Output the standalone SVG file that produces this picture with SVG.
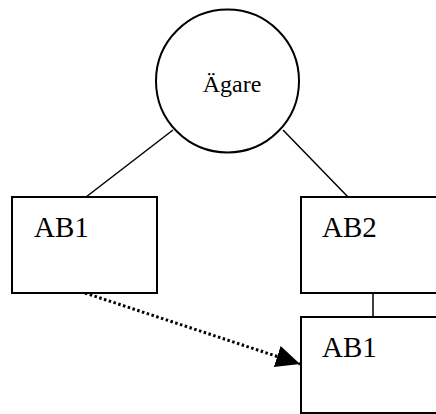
<svg xmlns="http://www.w3.org/2000/svg" width="436" height="414" viewBox="0 0 436 414">
  <style>
    .shape { fill: #fff; stroke: #000; stroke-width: 2; }
    .label { font-family: "Liberation Serif", "Times New Roman", serif; fill: #000; }
    .big { font-size: 29px; }
    .small { font-size: 24px; }
    .link { stroke: #000; stroke-width: 1.5; fill: none; }
    .dotted { stroke: #000; stroke-width: 3; fill: none; stroke-dasharray: 2.5 2.5; }
  </style>
  <defs>
    <marker id="arrow" markerUnits="userSpaceOnUse" markerWidth="26" markerHeight="24" refX="24" refY="11" orient="auto">
      <path d="M0,0 L24,11 L0,22 Z" fill="#000"/>
    </marker>
  </defs>
  <rect width="436" height="414" fill="#fff"/>

  <g id="connectors">
    <line class="link" x1="86" y1="197" x2="173" y2="130"/>
    <line class="link" x1="348" y1="197" x2="283" y2="130"/>
    <line class="link" x1="373" y1="293" x2="373" y2="317"/>
    <line class="dotted" x1="85" y1="293" x2="300" y2="364" marker-end="url(#arrow)"/>
  </g>

  <g id="owner">
    <circle class="shape" cx="227.5" cy="81" r="71.5"/>
    <text class="label small" x="232" y="92" text-anchor="middle">Ägare</text>
  </g>

  <g id="ab1-left">
    <rect class="shape" x="12" y="197" width="145" height="96"/>
    <text class="label big" x="34" y="237">AB1</text>
  </g>

  <g id="ab2">
    <rect class="shape" x="301" y="197" width="160" height="96"/>
    <text class="label big" x="322" y="237">AB2</text>
  </g>

  <g id="ab1-right">
    <rect class="shape" x="301" y="317" width="160" height="96"/>
    <text class="label big" x="322" y="357">AB1</text>
  </g>
</svg>
